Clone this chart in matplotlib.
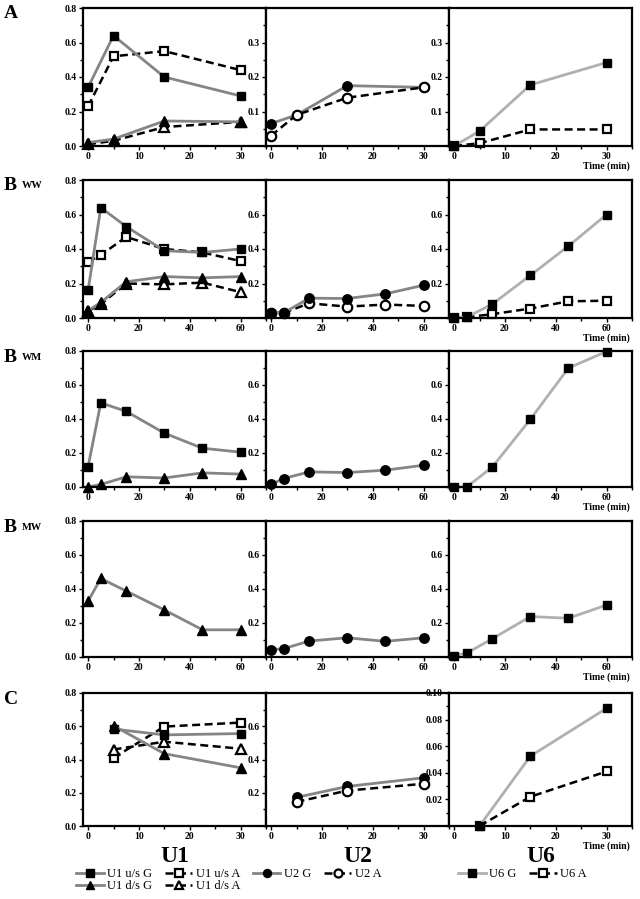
import matplotlib.pyplot as plt
from matplotlib.ticker import MultipleLocator
from matplotlib.lines import Line2D

plt.rcParams['font.family'] = ['Liberation Serif', 'DejaVu Serif']

# time points (min)
t_a = [0, 5, 15, 30]
t_b = [0, 5, 15, 30, 45, 60]
t_c = [5, 15, 30]

# row A
a_u1us_g = [0.34, 0.64, 0.40, 0.29]
a_u1us_a = [0.23, 0.52, 0.55, 0.44]
a_u1ds_g = [0.02, 0.04, 0.145, 0.14]
a_u1ds_a = [0.01, 0.03, 0.11, 0.14]
a_u2_g = [0.065, 0.09, 0.175, 0.17]
a_u2_a = [0.03, 0.09, 0.14, 0.17]
a_u6_g = [0.0, 0.043, 0.177, 0.242]
a_u6_a = [0.0, 0.008, 0.048, 0.048]

# row B ww
bww_u1us_g = [0.16, 0.64, 0.53, 0.39, 0.38, 0.40]
bww_u1us_a = [0.325, 0.365, 0.47, 0.40, 0.38, 0.33]
bww_u1ds_g = [0.043, 0.09, 0.21, 0.24, 0.233, 0.24]
bww_u1ds_a = [0.04, 0.08, 0.20, 0.195, 0.205, 0.15]
bww_u2_g = [0.03, 0.03, 0.115, 0.113, 0.14, 0.19]
bww_u2_a = [0.03, 0.03, 0.085, 0.066, 0.078, 0.07]
bww_u6_g = [0.0, 0.005, 0.08, 0.247, 0.417, 0.60]
bww_u6_a = [0.0, 0.005, 0.022, 0.055, 0.097, 0.10]

# row B wm
bwm_u1us_g = [0.12, 0.495, 0.445, 0.317, 0.228, 0.205]
bwm_u1ds_g = [0.0, 0.015, 0.06, 0.053, 0.083, 0.076]
bwm_u2_g = [0.015, 0.05, 0.089, 0.085, 0.099, 0.128]
bwm_u6_g = [0.0, 0.0, 0.117, 0.398, 0.70, 0.797]

# row B mw
bmw_u1ds_g = [0.328, 0.462, 0.388, 0.277, 0.16, 0.16]
bmw_u2_g = [0.043, 0.049, 0.094, 0.113, 0.092, 0.113]
bmw_u6_g = [0.008, 0.023, 0.107, 0.238, 0.228, 0.306]

# row C
c_u1us_g = [0.583, 0.548, 0.556]
c_u1us_a = [0.41, 0.598, 0.622]
c_u1ds_g = [0.603, 0.435, 0.35]
c_u1ds_a = [0.46, 0.507, 0.465]
c_u2_g = [0.172, 0.238, 0.29]
c_u2_a = [0.145, 0.213, 0.254]
c_u6_g = [0.0, 0.0525, 0.0885]
c_u6_a = [0.0, 0.022, 0.041]

G = dict(color='#858585', lw=2.0, ls='-', mfc='black', mec='black', mew=1)
G6 = dict(color='#b0b0b0', lw=2.0, ls='-', mfc='black', mec='black', mew=1)
A = dict(color='black', lw=1.8, ls=(0, (3.2, 1.8)), mfc='white', mec='black', mew=1.6)
ms = {'s': 6.2, 'o': 6.8, '^': 7.2}

fig = plt.figure(figsize=(6.4, 8.99), dpi=100)
W, H = 640.0, 899.0
lefts = [83, 266, 449]
width = 183
rows = [(8, 146), (180, 318), (351, 487), (521, 657), (693, 826)]


def add_ax(col, row):
    top, bot = rows[row]
    ax = fig.add_axes([lefts[col] / W, 1 - bot / H, width / W, (bot - top) / H])
    for sp in ax.spines.values():
        sp.set_linewidth(1.6)
    ax.tick_params(which='both', direction='out', labelsize=7, width=1, pad=1.5)
    ax.tick_params(which='major', length=3)
    ax.tick_params(which='minor', length=2)
    return ax


def series(ax, x, y, style, m):
    ax.plot(x, y, marker=m, ms=ms[m], clip_on=False, **style)


def finish(ax, xmax, xstep, ylim, yticks, ylabels, ystep):
    ax.set_xlim(-1 * xmax / 35, xmax)
    ticks = [v for v in range(0, int(xmax) + 1, xstep)]
    ax.set_xticks(ticks)
    ax.set_xticklabels([str(v) for v in ticks], fontweight='bold', fontsize=7)
    ax.xaxis.set_minor_locator(MultipleLocator(xstep / 2))
    ax.set_ylim(*ylim)
    ax.set_yticks(yticks)
    ax.set_yticklabels(ylabels, fontweight='bold', fontsize=7)
    ax.yaxis.set_minor_locator(MultipleLocator(ystep))


p1_ticks = [0, 0.2, 0.4, 0.6, 0.8]
p1_labels = ['0.0', '0.2', '0.4', '0.6', '0.8']
b_ticks = [0.2, 0.4, 0.6]
b_labels = ['0.2', '0.4', '0.6']

# row A
ax = add_ax(0, 0)
series(ax, t_a, a_u1us_a, A, 's')
series(ax, t_a, a_u1ds_a, A, '^')
series(ax, t_a, a_u1us_g, G, 's')
series(ax, t_a, a_u1ds_g, G, '^')
finish(ax, 35, 10, (0, 0.8), p1_ticks, p1_labels, 0.1)
ax = add_ax(1, 0)
series(ax, t_a, a_u2_g, G, 'o')
series(ax, t_a, a_u2_a, A, 'o')
finish(ax, 35, 10, (0, 0.4), [0.1, 0.2, 0.3], ['0.1', '0.2', '0.3'], 0.05)
ax = add_ax(2, 0)
series(ax, t_a, a_u6_a, A, 's')
series(ax, t_a, a_u6_g, G6, 's')
finish(ax, 35, 10, (0, 0.4), [0.1, 0.2, 0.3], ['0.1', '0.2', '0.3'], 0.05)

# row B ww
ax = add_ax(0, 1)
series(ax, t_b, bww_u1us_a, A, 's')
series(ax, t_b, bww_u1ds_a, A, '^')
series(ax, t_b, bww_u1us_g, G, 's')
series(ax, t_b, bww_u1ds_g, G, '^')
finish(ax, 70, 20, (0, 0.8), p1_ticks, p1_labels, 0.1)
ax = add_ax(1, 1)
series(ax, t_b, bww_u2_a, A, 'o')
series(ax, t_b, bww_u2_g, G, 'o')
finish(ax, 70, 20, (0, 0.8), b_ticks, b_labels, 0.1)
ax = add_ax(2, 1)
series(ax, t_b, bww_u6_a, A, 's')
series(ax, t_b, bww_u6_g, G6, 's')
finish(ax, 70, 20, (0, 0.8), b_ticks, b_labels, 0.1)

# row B wm
ax = add_ax(0, 2)
series(ax, t_b, bwm_u1us_g, G, 's')
series(ax, t_b, bwm_u1ds_g, G, '^')
finish(ax, 70, 20, (0, 0.8), p1_ticks, p1_labels, 0.1)
ax = add_ax(1, 2)
series(ax, t_b, bwm_u2_g, G, 'o')
finish(ax, 70, 20, (0, 0.8), b_ticks, b_labels, 0.1)
ax = add_ax(2, 2)
series(ax, t_b, bwm_u6_g, G6, 's')
finish(ax, 70, 20, (0, 0.8), b_ticks, b_labels, 0.1)

# row B mw
ax = add_ax(0, 3)
series(ax, t_b, bmw_u1ds_g, G, '^')
finish(ax, 70, 20, (0, 0.8), p1_ticks, p1_labels, 0.1)
ax = add_ax(1, 3)
series(ax, t_b, bmw_u2_g, G, 'o')
finish(ax, 70, 20, (0, 0.8), b_ticks, b_labels, 0.1)
ax = add_ax(2, 3)
series(ax, t_b, bmw_u6_g, G6, 's')
finish(ax, 70, 20, (0, 0.8), b_ticks, b_labels, 0.1)

# row C
ax = add_ax(0, 4)
series(ax, t_c, c_u1us_a, A, 's')
series(ax, t_c, c_u1ds_a, A, '^')
series(ax, t_c, c_u1us_g, G, 's')
series(ax, t_c, c_u1ds_g, G, '^')
finish(ax, 35, 10, (0, 0.8), p1_ticks, p1_labels, 0.1)
ax = add_ax(1, 4)
series(ax, t_c, c_u2_g, G, 'o')
series(ax, t_c, c_u2_a, A, 'o')
finish(ax, 35, 10, (0, 0.8), b_ticks, b_labels, 0.1)
ax = add_ax(2, 4)
series(ax, t_c, c_u6_a, A, 's')
series(ax, t_c, c_u6_g, G6, 's')
finish(ax, 35, 10, (0, 0.1), [0.02, 0.04, 0.06, 0.08, 0.10],
       ['0.02', '0.04', '0.06', '0.08', '0.10'], 0.01)

# "Time (min)" under each right-hand panel
for top, bot in rows:
    fig.text(630 / W, 1 - (bot + 20) / H, 'Time (min)', ha='right', va='center',
             fontsize=7, fontweight='bold')

# row labels
row_names = [('A', ''), ('B', 'WW'), ('B', 'WM'), ('B', 'MW'), ('C', '')]
for (big, small), (top, bot) in zip(row_names, rows):
    y = 1 - (top + 6) / H
    fig.text(4 / W, y, big, ha='left', va='center', fontsize=14, fontweight='bold')
    if small:
        fig.text(22 / W, y, small, ha='left', va='center', fontsize=7.5, fontweight='bold')

# column titles
for name, left in zip(['U1', 'U2', 'U6'], lefts):
    fig.text((left + width / 2) / W, 1 - 857 / H, name, ha='center', va='center',
             fontsize=17, fontweight='bold')


def handle(style, m):
    return Line2D([], [], marker=m, ms=ms[m] * 0.85, **style)


h1 = [handle(G, 's'), handle(G, '^'), handle(A, 's'), handle(A, '^'),
      handle(G, 'o'), handle(A, 'o')]
l1 = ['U1 u/s G', 'U1 d/s G', 'U1 u/s A', 'U1 d/s A', 'U2 G', 'U2 A']
fig.legend(h1, l1, ncol=4, loc='upper left', bbox_to_anchor=(76 / W, 1 - 868 / H),
           frameon=False, fontsize=9, handlelength=2.2, handletextpad=0.3,
           columnspacing=1.0, labelspacing=0.0, borderpad=0, borderaxespad=0)
h2 = [handle(G6, 's'), handle(A, 's')]
fig.legend(h2, ['U6 G', 'U6 A'], ncol=2, loc='upper left',
           bbox_to_anchor=(458 / W, 1 - 868 / H), frameon=False, fontsize=9,
           handlelength=2.2, handletextpad=0.3, columnspacing=1.0,
           borderpad=0, borderaxespad=0)

fig.savefig('out.png', dpi=100)
